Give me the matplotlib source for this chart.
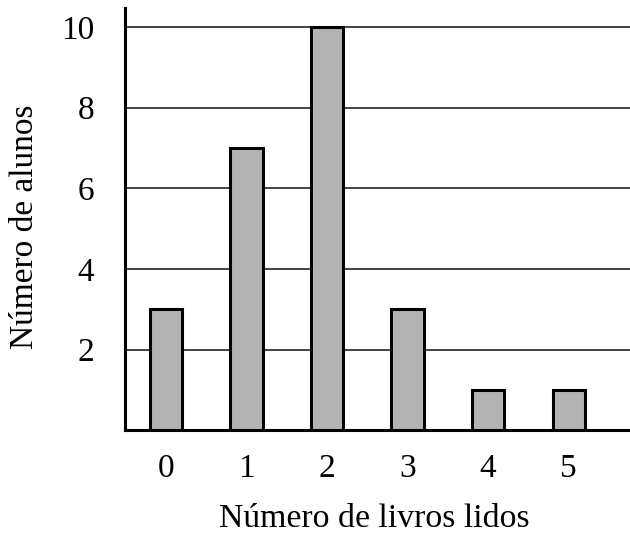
import matplotlib
matplotlib.use("Agg")
import matplotlib.pyplot as plt

plt.rcParams['font.family'] = ['Liberation Serif', 'DejaVu Serif']

livros = [0, 1, 2, 3, 4, 5]
alunos = [3, 7, 10, 3, 1, 1]
y_ticks = [2, 4, 6, 8, 10]

fig = plt.figure(figsize=(6.3, 5.35), dpi=100)
ax = fig.add_axes([0.198, 0.196, 0.802, 0.789])

ax.bar(livros, alunos, width=0.4, color="#b3b3b3", edgecolor="black",
       linewidth=2.2, zorder=3)

ax.set_xlim(-0.51, 5.76)
ax.set_ylim(0, 10.47)
ax.set_xticks(livros)
ax.set_yticks(y_ticks)
ax.tick_params(axis='both', length=0, labelsize=24)
ax.tick_params(axis='x', pad=16.5)
ax.tick_params(axis='y', pad=22)

ax.yaxis.grid(True, color="#111111", linewidth=1.1, zorder=0)
ax.set_axisbelow(True)

for s in ["top", "right"]:
    ax.spines[s].set_visible(False)
for s in ["left", "bottom"]:
    ax.spines[s].set_linewidth(2.2)

# axis titles placed by hand to sit where the original has them
fig.text(374 / 630, 8 / 535, "Número de livros lidos", fontsize=24.3,
         ha='center', va='baseline')
fig.text(33 / 630, 1 - 227 / 535, "Número de alunos", fontsize=24,
         rotation=90, rotation_mode='anchor', ha='center', va='baseline')

fig.savefig("out.png", dpi=100)
